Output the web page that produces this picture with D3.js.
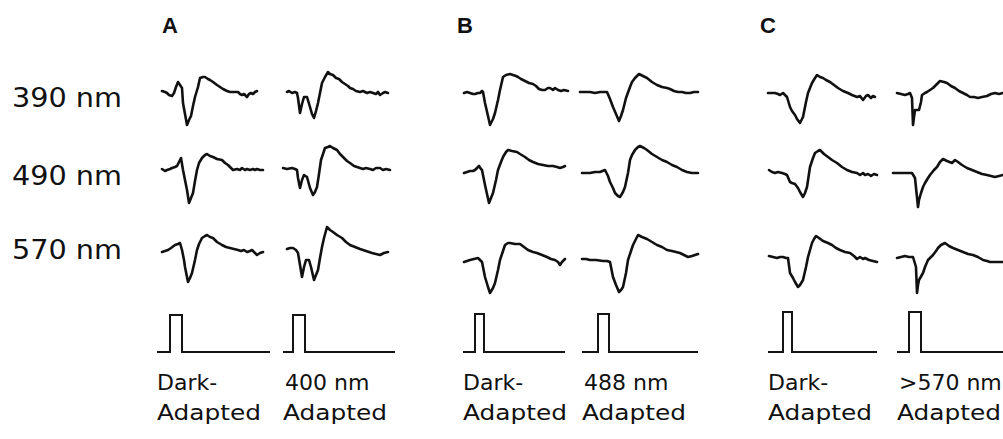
<!DOCTYPE html>
<html lang="en">
<head>
<meta charset="utf-8">
<title>ERG traces, dark and chromatic adaptation</title>
<script src="https://d3js.org/d3.v7.min.js"></script>
<style>
body { margin: 0; background: #fff; }
svg { display: block; }
.trace { fill: none; stroke: #111; stroke-width: 2.6; stroke-linejoin: round; stroke-linecap: round; }
.stim { fill: none; stroke: #151515; stroke-width: 2; }
</style>
</head>
<body>
<script>

// panels, columns and rows
var panels = ["A", "B", "C"];
var conditions = ["dark", "adapt"];
var wavelengths = ["390 nm", "490 nm", "570 nm"];
var labelTop = ["Dark-", "400 nm", "Dark-", "488 nm", "Dark-", ">570 nm"];
var labelBottom = ["Adapted", "Adapted", "Adapted", "Adapted", "Adapted", "Adapted"];

// responses: [time (ms), amplitude (uV)]
var a390dark = [[5,1],[8,0],[10,-1],[12,-3],[15,-4],[17,-1],[19,5],[21,10],[23,7],[25,4],[26,-11],[28,-22],[30,-33],[32,-28],[34,-24],[36,-14],[38,-5],[41,5],[43,14],[46,15],[48,15],[51,13],[53,12],[56,10],[60,7],[63,5],[66,3],[70,1],[73,0],[77,0],[81,0],[83,-2],[85,-3],[87,-2],[90,-5],[92,-2],[94,-1],[96,-2],[98,0],[100,1]];
var a390adapt = [[4,0],[6,1],[9,-1],[12,0],[14,-1],[15,-6],[17,-21],[19,-12],[21,-5],[24,-5],[27,-15],[29,-22],[31,-26],[33,-19],[35,-11],[37,-1],[39,9],[42,15],[45,20],[47,18],[50,17],[53,14],[56,13],[59,10],[62,8],[65,6],[67,4],[70,3],[73,1],[77,0],[80,1],[84,-1],[87,0],[90,-1],[93,-2],[95,0],[97,-3],[100,-1],[102,0],[105,-1]];
var a490dark = [[5,1],[8,-1],[10,0],[13,1],[15,2],[18,3],[20,4],[22,8],[24,12],[26,0],[28,-10],[30,-20],[32,-33],[34,-28],[36,-23],[38,-11],[40,0],[42,7],[45,12],[48,15],[50,16],[53,14],[56,13],[60,11],[65,10],[68,7],[71,5],[74,2],[76,0],[80,1],[83,0],[85,2],[88,0],[90,1],[93,0],[96,1],[98,0],[100,1],[103,0],[106,0]];
var a490adapt = [[0,2],[4,1],[9,2],[12,1],[14,0],[15,-8],[17,-18],[19,-10],[21,-5],[24,-7],[27,-18],[30,-25],[32,-22],[34,-17],[36,-4],[38,10],[40,16],[42,22],[45,23],[47,24],[50,22],[54,20],[57,16],[60,13],[64,9],[67,7],[71,4],[74,3],[77,2],[80,1],[83,2],[87,1],[90,0],[93,2],[97,2],[100,0],[103,1],[107,0]];
var a570dark = [[5,3],[8,4],[11,5],[14,7],[18,10],[21,11],[23,12],[25,5],[27,-5],[28,-12],[31,-27],[33,-23],[35,-18],[38,-5],[40,5],[42,11],[45,17],[48,19],[50,20],[53,18],[56,17],[60,13],[65,10],[69,8],[73,7],[77,6],[81,5],[84,4],[87,5],[90,3],[93,4],[95,5],[98,2],[100,0],[103,2],[106,3]];
var a570adapt = [[4,6],[7,7],[10,7],[13,5],[15,2],[17,-10],[19,-22],[21,-12],[23,-5],[26,-5],[28,-12],[31,-25],[33,-20],[35,-15],[37,-3],[39,8],[41,17],[44,28],[47,25],[50,23],[54,20],[59,17],[63,13],[67,10],[72,8],[77,6],[83,4],[89,2],[93,1],[97,0],[101,2],[105,3]];

var b390dark = [[1,-1],[4,0],[7,-1],[10,-2],[12,-2],[15,-1],[17,-1],[19,1],[20,0],[22,-11],[25,-24],[27,-33],[30,-27],[32,-21],[35,-8],[37,2],[40,15],[43,17],[47,18],[50,17],[53,16],[55,15],[58,13],[62,11],[66,9],[70,8],[73,6],[76,3],[79,2],[82,2],[85,4],[87,4],[90,2],[92,4],[95,2],[98,1],[101,2],[105,1]];
var b390adapt = [[-2,0],[3,0],[8,0],[13,-1],[18,0],[22,0],[25,0],[28,-7],[31,-15],[34,-22],[37,-29],[39,-24],[41,-18],[44,-6],[48,5],[50,10],[53,14],[57,18],[61,16],[65,14],[70,10],[75,7],[80,5],[85,4],[88,3],[92,1],[96,0],[100,0],[104,-1],[108,-1],[112,0],[116,0]];
var b490dark = [[1,-3],[4,-2],[7,-1],[10,-1],[12,0],[14,2],[16,4],[18,1],[19,0],[22,-15],[24,-24],[26,-33],[28,-28],[30,-23],[33,-10],[35,0],[38,8],[40,13],[43,18],[45,20],[49,19],[54,18],[57,16],[62,13],[66,10],[70,8],[75,6],[80,5],[85,4],[90,4],[94,3],[97,2],[100,3],[102,4]];
var b490adapt = [[0,-3],[4,-3],[8,-3],[13,-2],[18,-2],[23,0],[26,-6],[28,-12],[31,-18],[33,-23],[36,-26],[38,-27],[41,-22],[43,-17],[46,-3],[48,10],[50,15],[53,20],[56,23],[58,24],[62,22],[65,20],[70,16],[75,13],[80,10],[85,8],[90,5],[95,3],[100,0],[105,-2],[110,-3],[116,-3]];
var b570dark = [[1,-7],[4,-6],[7,-5],[11,-4],[15,-3],[17,-5],[19,-7],[22,-22],[25,-32],[27,-38],[30,-33],[32,-28],[35,-15],[37,-5],[40,4],[42,10],[45,12],[47,12],[52,11],[57,11],[61,8],[65,5],[70,3],[74,2],[79,0],[84,-2],[88,-4],[92,-5],[95,-7],[97,-10],[99,-7],[102,-4]];
var b570adapt = [[0,-4],[4,-4],[8,-5],[14,-5],[21,-6],[25,-6],[28,-7],[31,-22],[34,-30],[37,-37],[39,-35],[41,-32],[44,-18],[46,-5],[49,4],[51,10],[54,16],[56,20],[60,18],[65,16],[70,13],[75,10],[80,8],[85,5],[90,4],[98,2],[102,0],[106,-2],[110,-1],[116,1]];

var c390dark = [[0,-1],[4,-1],[7,-1],[10,-2],[12,-3],[15,-1],[17,-3],[19,-5],[22,-15],[24,-19],[27,-23],[29,-27],[32,-31],[35,-25],[38,-10],[40,-1],[42,4],[44,9],[47,14],[49,17],[52,15],[55,14],[58,12],[62,10],[66,7],[70,4],[75,1],[80,-1],[84,-3],[89,-5],[92,-4],[95,-8],[98,-4],[100,-3],[103,-6],[105,-4],[107,-5]];
var c390adapt = [[0,-1],[4,-2],[8,-3],[11,-2],[13,-1],[15,-6],[16,-33],[17,-25],[18,-18],[22,-18],[24,-10],[25,-3],[28,-1],[30,0],[33,2],[36,4],[40,8],[43,11],[47,10],[50,9],[54,6],[58,4],[62,1],[66,-1],[70,-3],[73,-5],[77,-5],[81,-6],[85,-5],[90,-4],[94,-2],[98,-1],[102,-2],[106,-1]];
var c490dark = [[1,0],[4,-2],[7,-3],[10,-2],[14,-3],[17,-4],[19,-5],[22,-12],[24,-13],[27,-14],[30,-18],[32,-22],[35,-27],[37,-23],[39,-17],[42,3],[45,12],[47,17],[50,19],[52,20],[56,16],[60,13],[64,10],[69,7],[74,3],[79,0],[84,-2],[89,-3],[92,-5],[95,-3],[97,-5],[100,-4],[103,-6],[106,-4],[109,-5]];
var c490adapt = [[-4,-3],[0,-3],[5,-3],[10,-3],[15,-3],[18,-8],[21,-37],[22,-30],[24,-23],[26,-17],[28,-13],[31,-8],[33,-5],[37,0],[40,3],[43,8],[46,11],[50,9],[55,7],[58,10],[61,8],[65,5],[70,2],[75,0],[80,-2],[85,-4],[90,-5],[94,-6],[98,-7],[102,-6],[106,-5]];
var c570dark = [[1,-1],[5,-2],[9,-3],[12,-2],[15,-2],[18,-3],[20,-3],[22,-18],[25,-23],[27,-27],[30,-32],[32,-30],[35,-25],[38,-12],[40,-2],[42,5],[44,12],[46,16],[48,19],[51,17],[55,14],[60,12],[64,10],[68,7],[72,5],[77,3],[82,2],[86,-1],[89,-4],[92,-2],[95,-4],[97,-3],[101,-5],[105,-6],[109,-7]];
var c570adapt = [[0,-3],[4,-2],[8,-1],[12,-2],[16,-2],[19,-12],[20,-38],[21,-30],[22,-25],[26,-18],[28,-12],[31,-5],[34,-2],[36,0],[39,4],[41,7],[44,10],[48,12],[52,9],[56,7],[61,5],[66,3],[71,1],[76,0],[81,-2],[86,-5],[90,-6],[93,-7],[100,-7],[106,-7]];

// stimulus monitor, one per column (ms)
var stimOnset = [13, 10, 12, 16, 15, 12];
var stimWidth = [12, 12, 9, 11, 9, 12];
var stimEnd = [113, 112, 102, 116, 109, 125];
var stimLevel = [37, 37, 38, 38, 40, 40];

var traces = [
  [a390dark, a390adapt, b390dark, b390adapt, c390dark, c390adapt],
  [a490dark, a490adapt, b490dark, b490adapt, c490dark, c490adapt],
  [a570dark, a570adapt, b570dark, b570adapt, c570dark, c570adapt]
];

var width = 1003, height = 439;

var svg = d3.select("body").append("svg")
    .attr("width", width)
    .attr("height", height);

// layout
var columns = d3.cross(panels, conditions).map(function(d) { return d[0] + "-" + d[1]; });
var colX = d3.scaleOrdinal().domain(columns).range([157, 283, 463, 582, 768, 897]);
var rowY = d3.scaleOrdinal().domain(wavelengths).range([92, 170, 255]);
var rowLabelY = d3.scaleOrdinal().domain(wavelengths).range([107, 185, 259]);
var panelX = d3.scaleOrdinal().domain(panels).range([162, 457, 760]);
var stimBase = 352;

var t = d3.scaleLinear().domain([0, 120]).range([0, 120]);
var v = d3.scaleLinear().domain([-40, 40]).range([40, -40]);

var line = d3.line()
    .x(function(d) { return t(d[0]); })
    .y(function(d) { return v(d[1]); });

// panel letters
svg.selectAll(".panel")
    .data(panels)
    .enter().append("text")
    .attr("x", function(d) { return panelX(d); })
    .attr("y", 33)
    .attr("font-family", "Liberation Sans, Arial, sans-serif")
    .attr("font-weight", "bold")
    .attr("font-size", 22)
    .attr("fill", "#111")
    .text(function(d) { return d; });

// wavelength labels
svg.selectAll(".wl")
    .data(wavelengths)
    .enter().append("text")
    .attr("x", 12)
    .attr("y", function(d) { return rowLabelY(d); })
    .attr("font-family", "DejaVu Sans, Verdana, sans-serif")
    .attr("font-size", 27)
    .attr("textLength", 110)
    .attr("lengthAdjust", "spacingAndGlyphs")
    .attr("fill", "#111")
    .text(function(d) { return d; });

// response traces
wavelengths.forEach(function(w, r) {
  columns.forEach(function(c, i) {
    svg.append("g")
        .attr("transform", "translate(" + colX(c) + "," + rowY(w) + ")")
      .append("path")
        .attr("class", "trace")
        .attr("d", line(traces[r][i]));
  });
});

// stimulus pulses
columns.forEach(function(c, i) {
  var on = stimOnset[i], off = stimOnset[i] + stimWidth[i];
  var pts = [[0, 0], [on, 0], [on, stimLevel[i]], [off, stimLevel[i]], [off, 0], [stimEnd[i], 0]];
  svg.append("g")
      .attr("transform", "translate(" + colX(c) + "," + stimBase + ")")
    .append("path")
      .attr("class", "stim")
      .attr("d", d3.line()
          .x(function(d) { return t(d[0]); })
          .y(function(d) { return v(d[1]) - v(0); })(pts));
});

// condition labels
columns.forEach(function(c, i) {
  var g = svg.append("g").attr("transform", "translate(" + colX(c) + ",0)");
  g.append("text")
      .attr("x", i % 2 ? 2 : 0)
      .attr("y", 390)
      .attr("font-family", "DejaVu Sans, sans-serif")
      .attr("font-size", 22)
      .attr("fill", "#111")
      .text(labelTop[i]);
  g.append("text")
      .attr("x", 0)
      .attr("y", 420)
      .attr("font-family", "DejaVu Sans, sans-serif")
      .attr("font-size", 22)
      .attr("textLength", 104)
      .attr("lengthAdjust", "spacingAndGlyphs")
      .attr("fill", "#111")
      .text(labelBottom[i]);
});

</script>
</body>
</html>
